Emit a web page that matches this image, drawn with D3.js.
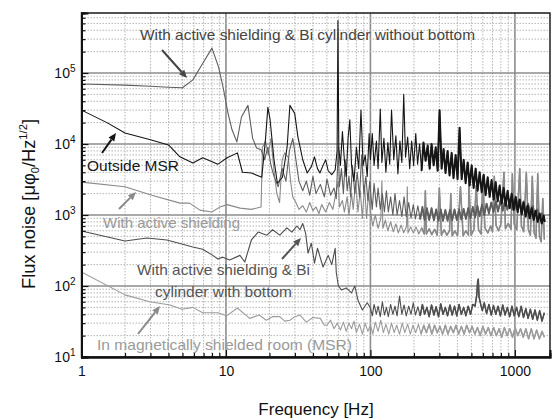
<!DOCTYPE html>
<html>
<head>
<meta charset="utf-8">
<script src="https://cdn.jsdelivr.net/npm/d3@7"></script>
<style>
  body { margin: 0; background: #fff; }
  svg { display: block; font-family: Arial, "Liberation Sans", sans-serif; }
</style>
</head>
<body>
<svg id="chart" width="552" height="419"></svg>
<script>
// [frequency Hz, flux noise]
const outsideMSR = [
  [1, 30000], [1.5, 20000], [2, 14300], [3, 11500], [4, 9700], [4.8, 6600], [5.9, 5400], [6.9, 6400],
  [8.8, 5200], [10.2, 6400], [12, 7500], [13, 4000], [15, 3900], [17.7, 3400], [18.8, 12000], [19.5, 33000],
  [20.2, 22000], [21.5, 6000], [22.7, 2800], [24.6, 3400], [26.5, 9000], [27.7, 35000], [29.9, 27000],
  [31.5, 12500], [34, 6000], [36.5, 3900], [39, 4800], [41, 6600], [43, 4500], [44.7, 3900], [47, 5000],
  [49, 6000], [51, 4200], [54, 3700], [57, 4300], [58.8, 8000], [59.6, 550000], [60.4, 9000], [62, 5000],
  [64, 15000], [66, 6000], [68, 3500], [70, 12000], [72, 22000], [74, 5000], [77, 3000], [80, 9000],
  [83, 4500], [86, 30000], [89, 5000], [92, 7000], [95, 3500], [98, 14000],
  [100, 6000], [103, 14000], [106, 5000], [110, 11000], [113, 4500], [117, 31000], [120, 5500], [124, 12000],
  [128, 4000], [132, 10500], [136, 5200], [140, 30000], [145, 6000], [150, 13000], [155, 3800], [160, 11000],
  [165, 5500], [170, 50000], [175, 6500], [181, 12500], [187, 4500], [193, 11000], [199, 5000], [206, 14000],
  [212, 5200], [219, 10000], [226, 4200], [233, 10500], [241, 5800], [249, 9500], [257, 4500], [265, 10000],
  [274, 5000], [283, 9000], [292, 4200], [301, 30000], [311, 4500], [321, 8500], [331, 3900], [342, 8000],
  [353, 3600], [365, 7500], [376, 3300], [389, 7000], [401, 3200], [414, 17000], [428, 3200], [442, 6000],
  [456, 2800], [471, 5500], [486, 2600], [502, 5000], [518, 2400], [535, 4500], [552, 2200], [570, 4000],
  [589, 2100], [608, 3700], [627, 1900], [648, 3400], [669, 1800], [690, 3100], [713, 1650], [736, 2900],
  [760, 1550], [784, 2600], [810, 1450], [836, 2400], [863, 1350], [891, 2200], [920, 1250], [950, 2000],
  [981, 1180], [1013, 1800], [1045, 1100], [1079, 1650], [1114, 1020], [1150, 1500], [1188, 950], [1226, 1350],
  [1266, 900], [1307, 1250], [1349, 850], [1393, 1150], [1438, 800], [1485, 1050], [1533, 760], [1583, 980],
  [1610, 800]
]

const biNoBottom = [
  [1, 70000], [2, 67500], [3, 65000], [4, 63000], [5, 62000], [5.9, 80000], [6.8, 130000], [8, 224000],
  [8.9, 120000], [9.6, 60000], [10.3, 28000], [11, 16000], [11.9, 10700], [12.8, 24000], [14.2, 35000],
  [15.3, 12000], [16.3, 8800], [17.5, 8300], [18.5, 6000], [19.5, 9000], [20.5, 5000], [21.5, 3500],
  [23, 2500], [24.5, 4500], [26, 3000], [27.5, 8000], [29, 12000], [30.5, 6000], [32, 3000], [34, 2200],
  [36, 3000], [38, 1900], [40, 3500], [42, 2000], [45, 2700], [48, 1800], [50, 3200], [53, 1900], [56, 2400],
  [58, 1700], [60, 9000], [61, 2500], [63, 4500], [65, 2000], [67, 6000], [69, 2200], [71, 3500], [73, 1800],
  [75, 5000], [78, 2000], [81, 4000], [84, 1800], [87, 7000], [90, 2000], [93, 3500], [96, 1600], [99, 3000],
  [100, 2200], [103, 1200], [106, 2800], [110, 1300], [113, 2400], [117, 1200], [121, 2000], [125, 1100],
  [129, 2200], [133, 1100], [138, 1800], [143, 1000], [148, 2000], [153, 1000], [159, 1600], [165, 950],
  [171, 1800], [177, 950], [184, 1500], [191, 900], [198, 1400], [205, 880], [213, 1350], [221, 870],
  [229, 1300], [237, 850], [246, 1250], [255, 850], [265, 1250], [275, 840], [285, 1200], [296, 830],
  [307, 1200], [318, 830], [330, 1180], [342, 830], [355, 1180], [368, 840], [382, 1200], [396, 850],
  [411, 1200], [426, 860], [442, 1220], [458, 880], [475, 1250], [493, 900], [511, 1300], [530, 930],
  [550, 1350], [570, 960], [592, 1400], [614, 1000], [637, 1450], [661, 1050], [686, 1500], [711, 1100],
  [738, 1550], [765, 1120], [794, 1600], [824, 1150], [855, 1620], [887, 1180], [920, 1650], [954, 1200],
  [990, 1650], [1027, 1200], [1065, 1620], [1105, 1150], [1147, 1550], [1190, 1100], [1234, 1450], [1280, 1050],
  [1328, 1350], [1378, 980], [1430, 1200], [1484, 900], [1540, 1050], [1600, 850]
]

const activeShielding = [
  [1, 2900], [2, 2500], [3.07, 1900], [4.8, 1470], [5.6, 1470], [6.6, 1170], [8, 1100], [9.1, 1300],
  [10.2, 1400], [12.5, 1250], [15, 1200], [17.5, 1300], [17.9, 9000], [18.8, 11000], [19.6, 7000],
  [20.5, 12000], [21.5, 4200], [22.5, 2000], [23.5, 1500], [24.5, 6000], [25.5, 7500], [27, 6500], [28, 3000],
  [29, 1800], [30.5, 1500], [32, 1200], [34, 1350], [36, 1100], [38, 1500], [40, 1150], [42, 1300], [44, 1050],
  [46, 1400], [49, 1100], [52, 1500], [55, 1200], [57, 1800], [60, 3000], [61, 1300], [64, 1600], [66, 1100],
  [69, 1800], [71, 1000], [74, 2000], [76, 1200], [79, 3000], [82, 1100], [85, 2200], [88, 900], [91, 2600],
  [94, 900], [97, 2000],
  [100, 1100], [104, 700], [108, 1000], [113, 650], [118, 900], [120, 3000], [122, 650], [127, 850], [132, 600],
  [138, 800], [144, 580], [150, 750], [156, 560], [163, 720], [170, 560], [178, 700], [180, 2500], [182, 560],
  [190, 680], [198, 560], [207, 680], [216, 540], [226, 660], [236, 540], [240, 2200], [244, 540], [255, 640],
  [266, 530], [278, 630], [290, 520], [300, 2400], [310, 520], [324, 620], [338, 520], [353, 600], [360, 2000],
  [368, 510], [384, 600], [401, 510], [420, 2500], [438, 510], [457, 600], [477, 520], [480, 3000], [498, 520],
  [520, 620], [540, 2600], [560, 620], [584, 540], [600, 3500], [620, 660], [650, 560], [680, 700], [700, 580],
  [720, 3500], [740, 720], [770, 600], [800, 740], [840, 4000], [860, 640], [900, 760], [940, 630], [960, 3800],
  [990, 740], [1030, 620], [1080, 4500], [1110, 700], [1150, 580], [1200, 4000], [1240, 620], [1280, 520],
  [1320, 3500], [1360, 560], [1400, 470], [1440, 3800], [1480, 500], [1520, 420], [1560, 1700], [1600, 450]
]

const biWithBottom = [
  [1, 596], [2, 430], [2.84, 475], [3.9, 445], [5.9, 354], [6.9, 330], [8.1, 270], [8.8, 240], [9.5, 255],
  [10.6, 233], [12.5, 270], [13.5, 218], [15, 445], [16.7, 575], [19.2, 520], [21, 620], [23.6, 520],
  [26.4, 660], [28.6, 575], [31, 700], [32.5, 620], [34, 760], [35.6, 550], [37, 290], [39, 400], [41, 210],
  [43, 340], [47, 185], [51, 270], [54, 200], [57, 340], [58, 157], [60, 100], [63, 88], [68, 94], [74, 80],
  [78, 100], [82, 63], [88, 46], [95, 58],
  [100, 49], [103, 38], [106, 55], [110, 40], [113, 52], [117, 37], [121, 60], [125, 39], [129, 50], [133, 37],
  [138, 55], [143, 40], [148, 52], [153, 38], [159, 72], [165, 40], [171, 54], [177, 38], [184, 52], [191, 40],
  [198, 58], [205, 39], [213, 51], [221, 38], [229, 55], [237, 40], [246, 50], [255, 37], [265, 54], [275, 39],
  [285, 51], [296, 37], [307, 56], [318, 40], [330, 50], [342, 38], [355, 54], [368, 39], [382, 52], [396, 38],
  [411, 55], [426, 40], [442, 50], [458, 38], [475, 52], [493, 40], [511, 55], [530, 52], [545, 75], [552, 115],
  [558, 125], [565, 70], [580, 55], [595, 45], [614, 58], [637, 41], [661, 55], [686, 39], [711, 53], [738, 40],
  [765, 52], [794, 38], [824, 54], [855, 39], [887, 50], [920, 37], [954, 52], [990, 38], [1027, 50], [1065, 37],
  [1105, 52], [1147, 36], [1190, 48], [1234, 35], [1280, 47], [1328, 34], [1378, 46], [1430, 33], [1484, 45],
  [1540, 32], [1600, 42]
]

const insideMSR = [
  [1, 157], [2, 75], [2.97, 60], [4.1, 54], [4.96, 47], [5.9, 50], [6.9, 42], [8.8, 42], [10.1, 38], [12, 49],
  [14.6, 35], [17, 39], [19, 33], [21, 37], [23.6, 37], [25.5, 32], [27.7, 33], [30, 37], [32.5, 39], [36, 31],
  [40, 36], [45, 35], [48, 28],
  [50, 28], [53, 33], [56, 25], [59, 30], [62, 24], [65, 31], [68, 23], [71, 30], [74, 25], [77, 32], [80, 22],
  [84, 29], [88, 21], [92, 30], [96, 23], [100, 28], [104, 21], [108, 31], [113, 23], [118, 33], [123, 22],
  [128, 29], [134, 21], [140, 30], [146, 22], [152, 28], [159, 21], [166, 30], [173, 22], [181, 29], [189, 21],
  [197, 28], [206, 22], [215, 29], [224, 21], [234, 28], [244, 22], [255, 29], [266, 21], [278, 28], [290, 22],
  [303, 27], [316, 21], [330, 28], [344, 21], [359, 27], [375, 22], [391, 28], [408, 21], [426, 27], [445, 21],
  [464, 28], [485, 22], [506, 27], [528, 21], [551, 26], [575, 20], [600, 27], [627, 21], [654, 26], [683, 20],
  [713, 26], [744, 20], [777, 25], [811, 19], [846, 26], [883, 20], [922, 25], [962, 19], [1004, 26], [1048, 20],
  [1094, 25], [1142, 19], [1192, 25], [1244, 18], [1299, 25], [1356, 18], [1415, 24], [1477, 18], [1542, 23],
  [1600, 19]
]

const xTickLabels = [1, 10, 100, 1000]
const yTickLabels = [1e1, 1e2, 1e3, 1e4, 1e5]

const svg = d3.select('#chart')
const mLeft = 81.5, mRight = 550, mTop = 13, mBottom = 357

const x = d3.scaleLog().domain([1, 1750]).range([mLeft, mRight])
const y = d3.scaleLog().domain([10, 7e5]).range([mBottom, mTop])

const isMajor = v => Math.abs(Math.log10(v) - Math.round(Math.log10(v))) < 1e-9

// grid
const grid = svg.append('g')
grid.selectAll('line.gx').data(x.ticks().filter(v => v > 1)).enter().append('line')
  .attr('x1', d => x(d)).attr('x2', d => x(d)).attr('y1', mTop).attr('y2', mBottom)
  .attr('stroke', d => isMajor(d) ? '#8c8c8c' : '#b4b4b4')
  .attr('stroke-width', d => isMajor(d) ? 1.6 : 1)
  .attr('stroke-dasharray', d => isMajor(d) ? null : '1.5,1.5')
grid.selectAll('line.gy').data(y.ticks().filter(v => v > 10)).enter().append('line')
  .attr('y1', d => y(d)).attr('y2', d => y(d)).attr('x1', mLeft).attr('x2', mRight)
  .attr('stroke', d => isMajor(d) ? '#8c8c8c' : '#b4b4b4')
  .attr('stroke-width', d => isMajor(d) ? 1.6 : 1)
  .attr('stroke-dasharray', d => isMajor(d) ? null : '1.5,1.5')

// series; the dense high-frequency part gets a second, heavier stroke
const line = d3.line().x(d => x(d[0])).y(d => y(d[1]))
const series = [
  { data: insideMSR, color: '#9c9c9c', band: 1.5 },
  { data: biWithBottom, color: '#4e4e4e', band: 1.5 },
  { data: activeShielding, color: '#8a8a8a', band: 1.6 },
  { data: biNoBottom, color: '#5e5e5e', band: 1.8 },
  { data: outsideMSR, color: '#151515', band: 2.0 }
]
const plot = svg.append('g')
series.forEach(s => {
  plot.append('path')
    .attr('d', line(s.data))
    .attr('fill', 'none')
    .attr('stroke', s.color)
    .attr('stroke-width', 1.1)
    .attr('stroke-linejoin', 'round')
  plot.append('path')
    .attr('d', line(s.data.filter(d => d[0] >= 220)))
    .attr('fill', 'none')
    .attr('stroke', s.color)
    .attr('stroke-width', s.band)
    .attr('stroke-linejoin', 'round')
})

// frame
svg.append('rect').attr('x', mLeft).attr('y', mTop).attr('width', mRight - mLeft).attr('height', mBottom - mTop)
  .attr('fill', 'none').attr('stroke', '#111').attr('stroke-width', 1.4)

// axes
const xMinor = d3.axisBottom(x).tickValues(x.ticks().filter(v => !isMajor(v))).tickSize(-4).tickFormat('')
svg.append('g').attr('transform', `translate(0,${mBottom})`).call(xMinor)
const xMajor = d3.axisBottom(x).tickValues(xTickLabels).tickSize(-7).tickPadding(9).tickFormat(d3.format('d'))
svg.append('g').attr('transform', `translate(0,${mBottom})`).call(xMajor)
  .call(g => g.selectAll('text').attr('font-size', 14).attr('fill', '#111'))

const yMinor = d3.axisLeft(y).tickValues(y.ticks().filter(v => !isMajor(v))).tickSize(-4).tickFormat('')
svg.append('g').attr('transform', `translate(${mLeft},0)`).call(yMinor)
const yMajor = d3.axisLeft(y).tickValues(yTickLabels).tickSize(-7).tickPadding(6).tickFormat('')
svg.append('g').attr('transform', `translate(${mLeft},0)`).call(yMajor)
  .call(g => g.selectAll('.tick text').each(function (d) {
    const t = d3.select(this).attr('font-size', 14).attr('fill', '#111')
    t.text('10')
    t.append('tspan').attr('dy', '-0.55em').attr('font-size', 10).text(Math.round(Math.log10(d)))
  }))

svg.selectAll('.domain').attr('stroke', '#111').attr('stroke-width', 2)
svg.selectAll('.tick line').attr('stroke', '#111').attr('stroke-width', 1.2)

// axis titles
svg.append('text').attr('x', 316).attr('y', 415).attr('text-anchor', 'middle')
  .attr('font-size', 17).attr('fill', '#111').text('Frequency [Hz]')

const yt = svg.append('text').attr('transform', 'translate(35,204) rotate(-90)')
  .attr('text-anchor', 'middle').attr('font-size', 18).attr('fill', '#111')
  .attr('textLength', 170).attr('lengthAdjust', 'spacingAndGlyphs')
yt.append('tspan').text('Flux noise [μφ')
yt.append('tspan').attr('font-size', 11).attr('dy', 4).text('0')
yt.append('tspan').attr('dy', -4).text('/Hz')
yt.append('tspan').attr('font-size', 11).attr('dy', -8).text('1/2')
yt.append('tspan').attr('dy', 8).text(']')

// annotations
const notes = [
  { text: 'With active shielding & Bi cylinder without bottom', x: 140, y: 40, color: '#444', w: 335 },
  { text: 'Outside MSR', x: 87, y: 171, color: '#151515', w: 92 },
  { text: 'With active shielding', x: 103, y: 228, color: '#9a9a9a', w: 137 },
  { text: 'With active shielding & Bi', x: 137, y: 275, color: '#555', w: 173 },
  { text: 'cylinder with bottom', x: 155, y: 297, color: '#555', w: 137 },
  { text: 'In magnetically shielded room (MSR)', x: 97, y: 350, color: '#9a9a9a', w: 255 }
]
svg.selectAll('text.note').data(notes).enter().append('text')
  .attr('class', 'note')
  .attr('x', d => d.x).attr('y', d => d.y)
  .attr('font-size', 14.5).attr('fill', d => d.color)
  .attr('textLength', d => d.w).attr('lengthAdjust', 'spacingAndGlyphs')
  .text(d => d.text)

const arrows = [
  { x1: 162, y1: 50, x2: 187, y2: 78, color: '#444' },
  { x1: 102, y1: 153, x2: 116, y2: 133, color: '#151515' },
  { x1: 119, y1: 209, x2: 136, y2: 192, color: '#8a8a8a' },
  { x1: 282, y1: 259, x2: 301, y2: 238, color: '#555' },
  { x1: 138, y1: 334, x2: 160, y2: 306, color: '#8a8a8a' }
]
const ag = svg.append('g')
arrows.forEach(a => {
  const ang = Math.atan2(a.y2 - a.y1, a.x2 - a.x1)
  const hl = 8, hw = 3.5
  const bx = a.x2 - hl * Math.cos(ang), by = a.y2 - hl * Math.sin(ang)
  ag.append('line').attr('x1', a.x1).attr('y1', a.y1).attr('x2', bx).attr('y2', by)
    .attr('stroke', a.color).attr('stroke-width', 2)
  ag.append('path')
    .attr('d', `M${a.x2},${a.y2}L${bx - hw * Math.sin(ang)},${by + hw * Math.cos(ang)}L${bx + hw * Math.sin(ang)},${by - hw * Math.cos(ang)}Z`)
    .attr('fill', a.color)
})
</script>
</body>
</html>
